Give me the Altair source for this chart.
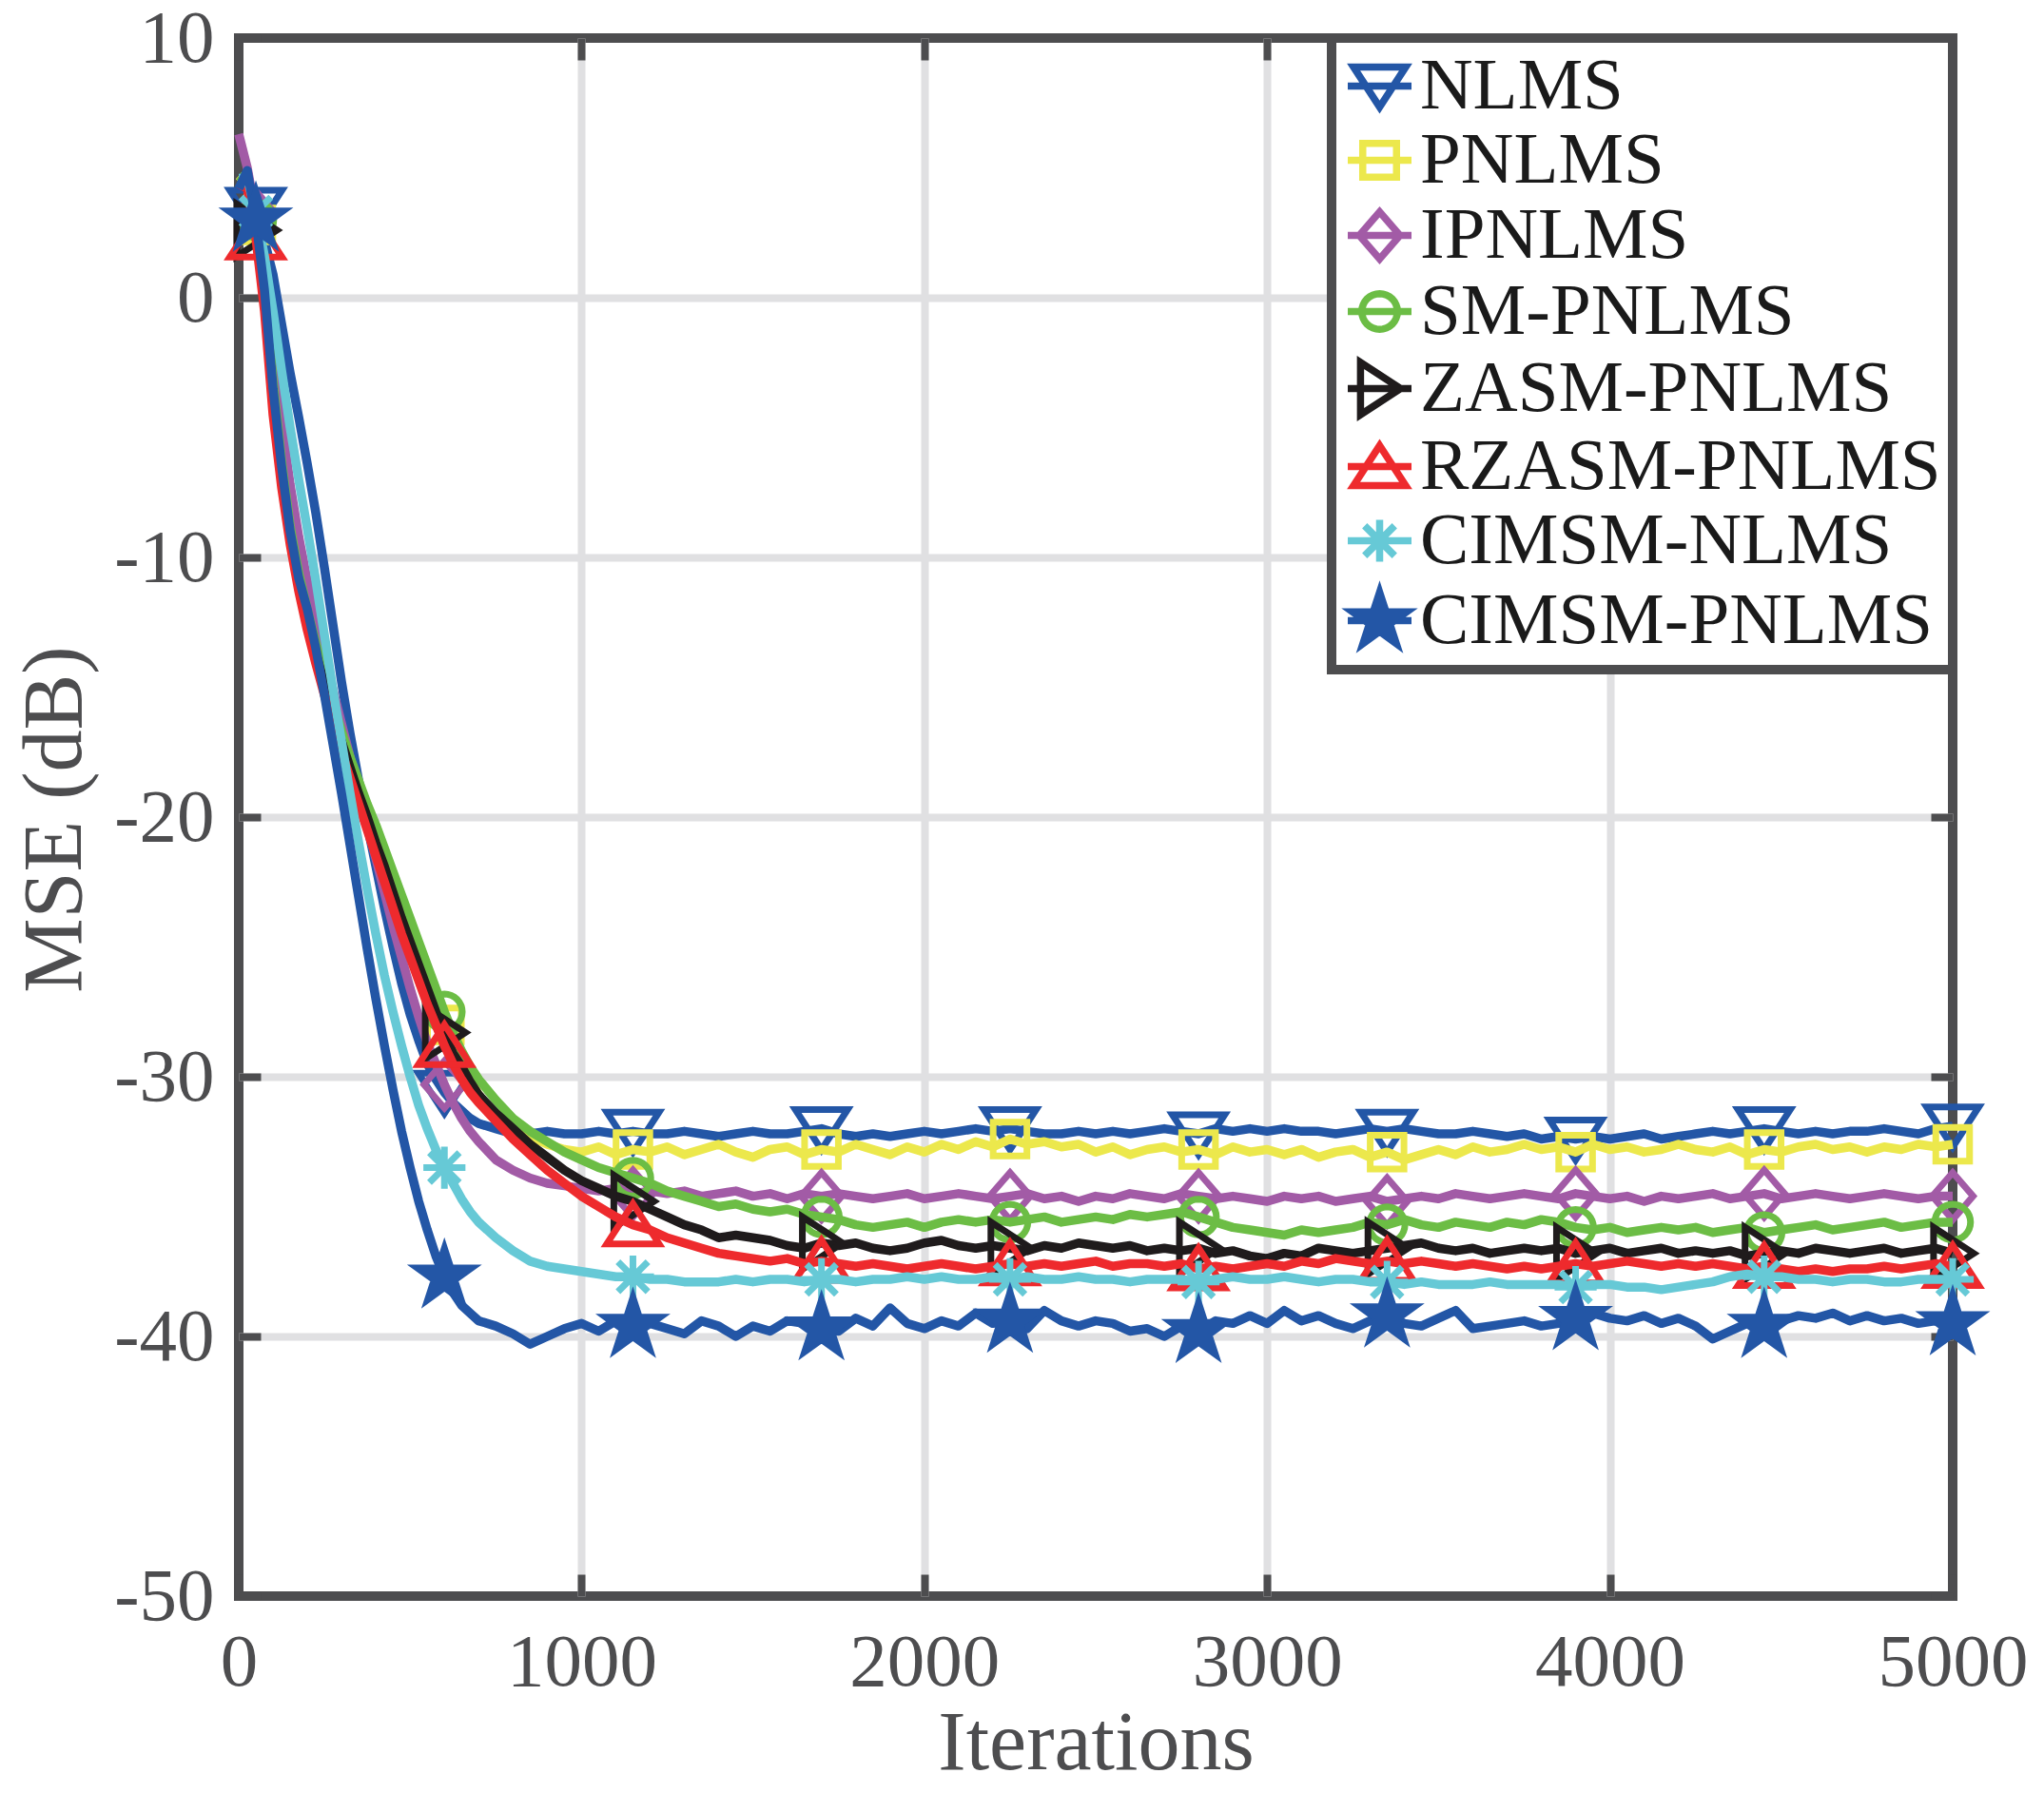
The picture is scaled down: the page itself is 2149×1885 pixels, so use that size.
import math
import altair as alt
import pandas as pd

# ---------------------------------------------------------------- data
SERIES = ["NLMS", "PNLMS", "IPNLMS", "SM-PNLMS", "ZASM-PNLMS",
          "RZASM-PNLMS", "CIMSM-NLMS", "CIMSM-PNLMS"]
COLORS = ["#2356a6", "#ece84c", "#a25ba6", "#6cbd45", "#1f1b1c",
          "#ee2a2d", "#66c9d6", "#2356a6"]

ITER_EARLY = list(range(0, 701, 25))      # 29 samples
ITER_LATE = list(range(750, 5001, 50))    # 86 samples
MARKER_ITERS = [50, 600, 1150, 1700, 2250, 2800, 3350, 3900, 4450, 5000]
X_TICKS = [0, 1000, 2000, 3000, 4000, 5000]
Y_TICKS = [-50, -40, -30, -20, -10, 0, 10]

NLMS_EARLY = [4.6, 4.6, 3.4, 2.2, 0.9, -1.0, -2.9, -4.6, -6.4, -8.3,
              -10.4, -12.6, -14.8, -16.8, -18.6, -20.3, -21.9, -23.5, -25.0, -26.4,
              -27.6, -28.6, -29.5, -30.1, -30.6, -31.0, -31.3, -31.6, -31.8]
NLMS_LATE = [-32.0, -32.2, -32.2, -32.1, -32.2, -32.2, -32.1, -32.2, -32.1, -32.2,
             -32.2, -32.1, -32.2, -32.3, -32.2, -32.1, -32.2, -32.2, -32.1, -32.0,
             -32.2, -32.3, -32.2, -32.3, -32.2, -32.1, -32.2, -32.1, -32.0, -32.1,
             -32.0, -32.1, -32.2, -32.2, -32.1, -32.2, -32.1, -32.2, -32.1, -32.0,
             -32.1, -32.2, -32.0, -32.1, -32.0, -32.1, -32.0, -32.1, -32.1, -32.2,
             -32.1, -32.0, -32.1, -32.0, -32.1, -32.2, -32.2, -32.1, -32.2, -32.3,
             -32.2, -32.4, -32.3, -32.4, -32.3, -32.4, -32.3, -32.2, -32.4, -32.3,
             -32.2, -32.1, -32.2, -32.1, -32.0, -32.1, -32.2, -32.1, -32.2, -32.1,
             -32.1, -32.0, -32.1, -32.2, -32.0, -31.9]

PNLMS_EARLY = [4.7, 4.4, 2.8, 0.5, -3.5, -6.5, -9.0, -10.8, -12.2, -13.5,
               -14.7, -15.8, -16.9, -17.9, -18.8, -19.7, -20.6, -21.5, -22.5, -23.4,
               -24.4, -25.4, -26.3, -27.2, -28.0, -28.8, -29.5, -30.1, -30.7]
PNLMS_LATE = [-31.5, -31.9, -32.3, -32.6, -32.8, -32.9, -32.7, -33.0, -32.8, -32.9,
              -32.7, -33.0, -32.8, -32.6, -32.9, -33.1, -32.8, -32.7, -33.0, -32.8,
              -32.9, -32.6, -32.8, -33.0, -32.7, -32.9, -32.6, -32.8, -32.5, -32.7,
              -32.4, -32.6, -32.5, -32.7, -32.6, -32.9, -32.7, -33.0, -32.8, -32.7,
              -32.9, -32.8, -33.0, -32.7, -32.9, -32.8, -33.0, -32.8, -33.1, -32.9,
              -32.8, -33.1, -32.9, -33.2, -33.0, -32.8, -33.0, -32.7, -32.9, -32.8,
              -32.6, -32.8, -32.7, -32.9, -32.6, -32.8, -32.7, -32.9, -32.8, -32.6,
              -32.8, -32.9, -32.7, -33.0, -32.8, -32.9, -32.7, -32.6, -32.8, -32.7,
              -32.9, -32.7, -32.8, -32.6, -32.7, -32.6]

IPNLMS_EARLY = [6.3, 5.0, 3.2, 1.0, -2.0, -4.8, -7.2, -9.2, -10.9, -12.4,
                -13.8, -15.1, -16.4, -17.7, -19.0, -20.3, -21.6, -22.9, -24.2, -25.4,
                -26.6, -27.7, -28.7, -29.5, -30.3, -31.0, -31.6, -32.1, -32.5]
IPNLMS_LATE = [-33.2, -33.6, -33.9, -34.1, -34.2, -34.3, -34.4, -34.3, -34.5, -34.4,
               -34.5, -34.4, -34.6, -34.5, -34.4, -34.6, -34.5, -34.7, -34.5, -34.6,
               -34.5, -34.6, -34.7, -34.6, -34.5, -34.7, -34.6, -34.5, -34.6, -34.7,
               -34.6, -34.5, -34.7, -34.6, -34.8, -34.6, -34.7, -34.5, -34.6, -34.7,
               -34.5, -34.6, -34.7, -34.6, -34.7, -34.8, -34.6, -34.7, -34.6, -34.8,
               -34.7, -34.6, -34.8, -34.7, -34.6, -34.7, -34.5, -34.6, -34.7, -34.6,
               -34.5, -34.6, -34.7, -34.5, -34.6, -34.7, -34.6, -34.8, -34.6, -34.7,
               -34.6, -34.5, -34.7, -34.6, -34.5, -34.7, -34.6, -34.5, -34.6, -34.7,
               -34.6, -34.5, -34.6, -34.7, -34.6, -34.6]

SMPNLMS_EARLY = [4.7, 4.5, 3.0, 0.6, -3.2, -6.3, -8.8, -10.6, -12.0, -13.3,
                 -14.5, -15.6, -16.7, -17.7, -18.6, -19.5, -20.3, -21.2, -22.1, -23.0,
                 -23.9, -24.8, -25.7, -26.6, -27.5, -28.3, -29.0, -29.6, -30.1]
SMPNLMS_LATE = [-30.9, -31.6, -32.1, -32.5, -32.9, -33.2, -33.5, -33.7, -33.9, -34.1,
                -34.4, -34.6, -34.8, -35.0, -34.9, -35.1, -35.2, -35.1, -35.3, -35.4,
                -35.5, -35.7, -35.8, -35.7, -35.6, -35.8, -35.6, -35.5, -35.6, -35.5,
                -35.6, -35.5, -35.4, -35.6, -35.5, -35.4, -35.5, -35.3, -35.4, -35.3,
                -35.2, -35.4, -35.6, -35.8, -35.9, -36.0, -36.1, -35.9, -36.0, -35.9,
                -35.8, -35.6, -35.7, -35.5, -35.7, -35.8, -35.6, -35.7, -35.8, -35.6,
                -35.7, -35.5, -35.6, -35.8, -35.9, -35.8, -36.0, -35.9, -35.8, -35.9,
                -35.8, -36.0, -35.9, -35.8, -36.0, -35.9, -35.8, -35.7, -35.9, -35.8,
                -35.7, -35.6, -35.8, -35.7, -35.6, -35.6]

ZASM_EARLY = [4.5, 4.3, 2.6, 0.2, -3.8, -6.8, -9.2, -11.0, -12.4, -13.7,
              -14.9, -16.0, -17.1, -18.1, -19.1, -20.0, -21.0, -21.9, -22.9, -23.9,
              -24.8, -25.7, -26.6, -27.5, -28.3, -29.1, -29.6, -30.2, -30.7]
ZASM_LATE = [-31.4, -32.0, -32.6, -33.1, -33.6, -34.0, -34.3, -34.6, -34.8, -35.1,
             -35.4, -35.7, -35.9, -36.2, -36.1, -36.2, -36.3, -36.5, -36.6, -36.4,
             -36.5, -36.4, -36.6, -36.7, -36.6, -36.4, -36.3, -36.5, -36.6, -36.5,
             -36.6, -36.7, -36.5, -36.6, -36.4, -36.5, -36.6, -36.5, -36.7, -36.6,
             -36.7, -36.6, -36.8, -36.7, -36.9, -37.0, -36.8, -36.9, -36.6, -36.7,
             -36.8, -36.7, -36.6, -36.5, -36.4, -36.6, -36.7, -36.6, -36.8, -36.7,
             -36.6, -36.7, -36.6, -36.8, -36.7, -36.6, -36.8, -36.7, -36.6, -36.8,
             -36.7, -36.8, -36.7, -36.9, -36.8, -36.7, -36.8, -36.6, -36.7, -36.8,
             -36.7, -36.6, -36.8, -36.7, -36.6, -36.8]

RZASM_EARLY = [4.4, 4.2, 2.3, -0.5, -4.5, -7.3, -9.5, -11.3, -12.8, -14.1,
               -15.3, -16.4, -17.5, -18.5, -19.5, -20.5, -21.5, -22.5, -23.5, -24.5,
               -25.4, -26.3, -27.2, -28.0, -28.8, -29.5, -30.1, -30.6, -31.0]
RZASM_LATE = [-31.7, -32.4, -33.0, -33.6, -34.1, -34.6, -35.0, -35.4, -35.7, -35.9,
              -36.2, -36.4, -36.6, -36.8, -36.9, -37.0, -37.1, -37.0, -37.2, -37.1,
              -37.2, -37.3, -37.2, -37.3, -37.4, -37.3, -37.2, -37.3, -37.4, -37.3,
              -37.2, -37.3, -37.2, -37.3, -37.2, -37.1, -37.3, -37.2, -37.2, -37.3,
              -37.2, -37.4, -37.3, -37.4, -37.3, -37.2, -37.3, -37.1, -37.2, -37.0,
              -37.1, -37.2, -37.1, -37.2, -37.1, -37.2, -37.3, -37.2, -37.3, -37.4,
              -37.3, -37.4, -37.3, -37.2, -37.3, -37.2, -37.1, -37.2, -37.3, -37.2,
              -37.3, -37.2, -37.3, -37.4, -37.3, -37.4, -37.5, -37.4, -37.5, -37.4,
              -37.4, -37.3, -37.4, -37.3, -37.2, -37.3]

CIMSMNLMS_EARLY = [4.6, 4.6, 3.3, 1.6, -0.5, -2.8, -5.0, -7.0, -8.9, -10.9,
                   -13.0, -15.1, -17.1, -19.1, -21.0, -22.8, -24.5, -26.1, -27.5, -28.8,
                   -30.0, -31.1, -32.0, -32.8, -33.5, -34.1, -34.7, -35.2, -35.6]
CIMSMNLMS_LATE = [-36.2, -36.7, -37.1, -37.3, -37.4, -37.5, -37.6, -37.7, -37.7, -37.8,
                  -37.8, -37.9, -37.9, -37.9, -37.8, -37.9, -37.8, -37.8, -37.9, -37.8,
                  -37.8, -37.9, -37.8, -37.8, -37.7, -37.8, -37.7, -37.8, -37.8, -37.7,
                  -37.8, -37.7, -37.8, -37.8, -37.7, -37.8, -37.8, -37.9, -37.8, -37.8,
                  -37.8, -37.9, -37.8, -37.7, -37.8, -37.8, -37.7, -37.8, -37.9, -37.8,
                  -37.8, -37.9, -37.9, -38.0, -37.9, -38.0, -38.0, -38.0, -37.9, -38.0,
                  -38.0, -38.0, -38.0, -38.1, -38.0, -38.0, -38.1, -38.1, -38.2, -38.1,
                  -38.0, -37.9, -37.7, -37.6, -37.7, -37.7, -37.8, -37.8, -37.9, -37.8,
                  -37.8, -37.9, -37.9, -37.8, -37.8, -37.8]

CIMSMPNLMS_EARLY = [4.2, 4.9, 3.0, 0.3, -3.5, -6.5, -9.0, -10.8, -12.0, -13.5,
                    -15.3, -17.2, -19.1, -21.1, -23.1, -25.1, -27.0, -28.8, -30.5, -32.1,
                    -33.5, -34.8, -35.9, -36.9, -37.7, -38.3, -38.8, -39.1, -39.4]
CIMSMPNLMS_LATE = [-39.6, -39.9, -40.3, -40.0, -39.7, -39.5, -39.8, -39.4, -39.6, -39.5,
                   -39.7, -39.9, -39.4, -39.6, -40.0, -39.6, -39.8, -39.4, -39.5, -39.7,
                   -39.8, -39.3, -39.6, -38.9, -39.5, -39.7, -39.4, -39.6, -39.1, -39.5,
                   -39.4, -39.7, -39.0, -39.4, -39.6, -39.4, -39.5, -39.8, -39.7, -40.0,
                   -39.6, -39.8, -39.4, -39.5, -39.2, -39.5, -39.0, -39.4, -39.2, -39.5,
                   -39.7, -39.4, -39.2, -39.5, -39.6, -39.3, -39.0, -39.7, -39.6, -39.5,
                   -39.4, -39.6, -39.5, -39.3, -39.1, -39.3, -39.4, -39.2, -39.5, -39.3,
                   -39.6, -40.1, -39.8, -39.5, -39.6, -39.4, -39.2, -39.3, -39.1, -39.4,
                   -39.2, -39.4, -39.3, -39.5, -39.4, -39.5]

VALUES = {
    "NLMS": NLMS_EARLY + NLMS_LATE,
    "PNLMS": PNLMS_EARLY + PNLMS_LATE,
    "IPNLMS": IPNLMS_EARLY + IPNLMS_LATE,
    "SM-PNLMS": SMPNLMS_EARLY + SMPNLMS_LATE,
    "ZASM-PNLMS": ZASM_EARLY + ZASM_LATE,
    "RZASM-PNLMS": RZASM_EARLY + RZASM_LATE,
    "CIMSM-NLMS": CIMSMNLMS_EARLY + CIMSMNLMS_LATE,
    "CIMSM-PNLMS": CIMSMPNLMS_EARLY + CIMSMPNLMS_LATE,
}
ITERATIONS = ITER_EARLY + ITER_LATE

rows = []
for name in SERIES:
    vals = VALUES[name]
    assert len(vals) == len(ITERATIONS), (name, len(vals))
    for it, v in zip(ITERATIONS, vals):
        rows.append({"series": name, "iter": it, "mse": v,
                     "marker": it in MARKER_ITERS})
df = pd.DataFrame(rows)

# ---------------------------------------------------------------- styles
FONT = "Liberation Serif"
FRAME = "#4d4d4f"
GRID = "#e0e0e2"
AXTXT = "#4d4d4f"


def render(subpaths, k):
    out = []
    for pts, closed in subpaths:
        s = "M" + "L".join(f"{x * k:.3f},{y * k:.3f}" for x, y in pts)
        if closed:
            s += "Z"
        out.append(s)
    return "".join(out)


def star_pts(R, ratio=0.382):
    pts = []
    for k in range(10):
        a = math.radians(-90 + 36 * k)
        r = R if k % 2 == 0 else R * ratio
        pts.append((r * math.cos(a), r * math.sin(a)))
    return pts


MARKER_SHAPES = {
    "NLMS": [([(-0.82, -0.6), (0.82, -0.6), (0, 0.66)], True)],
    "PNLMS": [([(-0.53, -0.53), (0.53, -0.53), (0.53, 0.53), (-0.53, 0.53)], True)],
    "IPNLMS": [([(0, -0.74), (0.64, 0), (0, 0.74), (-0.64, 0)], True)],
    "SM-PNLMS": [([(0.56 * math.cos(2 * math.pi * k / 32),
                    0.56 * math.sin(2 * math.pi * k / 32)) for k in range(32)], True)],
    "ZASM-PNLMS": [([(-0.6, -0.82), (-0.6, 0.82), (0.66, 0)], True)],
    "RZASM-PNLMS": [([(-0.82, 0.6), (0.82, 0.6), (0, -0.66)], True)],
    "CIMSM-NLMS": [([(0, -0.66), (0, 0.66)], False),
                   ([(-0.66, 0), (0.66, 0)], False),
                   ([(-0.47, -0.47), (0.47, 0.47)], False),
                   ([(-0.47, 0.47), (0.47, -0.47)], False)],
    "CIMSM-PNLMS": [(star_pts(0.9 * s), True) for s in (1.0, 0.72, 0.46, 0.22)],
}
MARKER_SIZE = 4490          # ~33.5 px per path unit
LEGEND_SIZE = 4489          # 33.5 px per path unit -> 67 px legend line
PLOT_PATHS = {n: render(MARKER_SHAPES[n], 1.0) for n in SERIES}
LEGEND_PATHS = ["M-1,0L1,0" + render(MARKER_SHAPES[n], 1.0) for n in SERIES]

XS = alt.Scale(domain=[0, 5000], nice=False, zero=False)
YS = alt.Scale(domain=[-50, 10], nice=False, zero=False)

X_LABEL_AXIS = alt.Axis(values=X_TICKS, orient="bottom", grid=False, ticks=False,
                        tickSize=0, domain=False, labelPadding=31, labelFlush=False,
                        labelOverlap=False, labelExpr="'' + datum.value",
                        labelFontSize=79, title="Iterations", titleFontSize=88,
                        titleX=901, titleY=181, titleBaseline="alphabetic",
                        titleAlign="center", titleAngle=0)
Y_LABEL_AXIS = alt.Axis(values=Y_TICKS, orient="left", grid=False, ticks=False,
                        tickSize=0, domain=False, labelPadding=26, labelFlush=False,
                        labelOverlap=False, labelExpr="'' + datum.value",
                        labelFontSize=79, title="MSE (dB)", titleFontSize=88,
                        titleX=-167, titleY=821, titleAngle=270,
                        titleBaseline="alphabetic", titleAlign="center")
X_GRID_AXIS = alt.Axis(values=[1000, 2000, 3000, 4000], orient="bottom", grid=True,
                       gridColor=GRID, gridWidth=8, ticks=False, labels=False,
                       domain=False, title=None)
Y_GRID_AXIS = alt.Axis(values=[-40, -30, -20, -10, 0], orient="left", grid=True,
                       gridColor=GRID, gridWidth=8, ticks=False, labels=False,
                       domain=False, title=None)


def tick_axis(values, orient):
    return alt.Axis(values=values, orient=orient, offset=-23, ticks=True,
                    tickSize=23, tickWidth=8, tickColor=FRAME, labels=False,
                    domain=False, grid=False, title=None)


AXES = {
    ("line", 0): (X_LABEL_AXIS, Y_LABEL_AXIS),
    ("point", 0): (X_GRID_AXIS, Y_GRID_AXIS),
    ("line", 1): (tick_axis(X_TICKS, "bottom"), tick_axis(Y_TICKS, "left")),
    ("point", 1): (tick_axis(X_TICKS, "top"), tick_axis(Y_TICKS, "right")),
}

layers = []
for i, name in enumerate(SERIES):
    color = COLORS[i]
    xa, ya = AXES.get(("line", i), (None, None))
    line = alt.Chart().mark_line(color=color, strokeWidth=9.5, strokeJoin="round").encode(
        x=alt.X("iter:Q", scale=XS, axis=xa),
        y=alt.Y("mse:Q", scale=YS, axis=ya),
    ).transform_filter(alt.datum.series == name)
    xa, ya = AXES.get(("point", i), (None, None))
    pts = alt.Chart().mark_point(shape=PLOT_PATHS[name], filled=False, size=MARKER_SIZE,
                                 strokeWidth=7, color=color, opacity=1,
                                 strokeJoin="miter").encode(
        x=alt.X("iter:Q", scale=XS, axis=xa),
        y=alt.Y("mse:Q", scale=YS, axis=ya),
    ).transform_filter((alt.datum.series == name) & alt.datum.marker)
    layers += [line, pts]

LEG = alt.Legend(title=None, orient="top-right", offset=0, padding=12,
                 fillColor="white", strokeColor=FRAME, labelFont=FONT,
                 labelFontSize=77, labelColor="#1a1a1a", labelLimit=2000,
                 labelOffset=4, rowPadding=0, symbolSize=LEGEND_SIZE,
                 symbolStrokeWidth=7.5, symbolOpacity=1)

legend_layer = alt.Chart().mark_point(filled=False, opacity=0, size=LEGEND_SIZE,
                                      strokeWidth=7.5).encode(
    x=alt.X("iter:Q", scale=XS, axis=None),
    y=alt.Y("mse:Q", scale=YS, axis=None),
    color=alt.Color("series:N", scale=alt.Scale(domain=SERIES, range=COLORS), legend=LEG),
    shape=alt.Shape("series:N", scale=alt.Scale(domain=SERIES, range=LEGEND_PATHS), legend=LEG),
).transform_filter(alt.datum.marker)
layers.append(legend_layer)

chart = alt.layer(*layers, data=df).resolve_axis(
    x="independent", y="independent"
).properties(
    width=1802, height=1638,
    autosize=alt.AutoSizeParams(type="none"),
    padding={"left": 243, "top": 32, "right": 88, "bottom": 199},
    background="white",
).configure_view(
    stroke=FRAME, strokeWidth=10
).configure_axis(
    labelFont=FONT, titleFont=FONT, labelColor=AXTXT, titleColor=AXTXT,
    titleFontWeight="normal"
).configure_legend(
    strokeWidth=10
)

chart.save("out.html", embed_options={"renderer": "svg", "actions": False})
